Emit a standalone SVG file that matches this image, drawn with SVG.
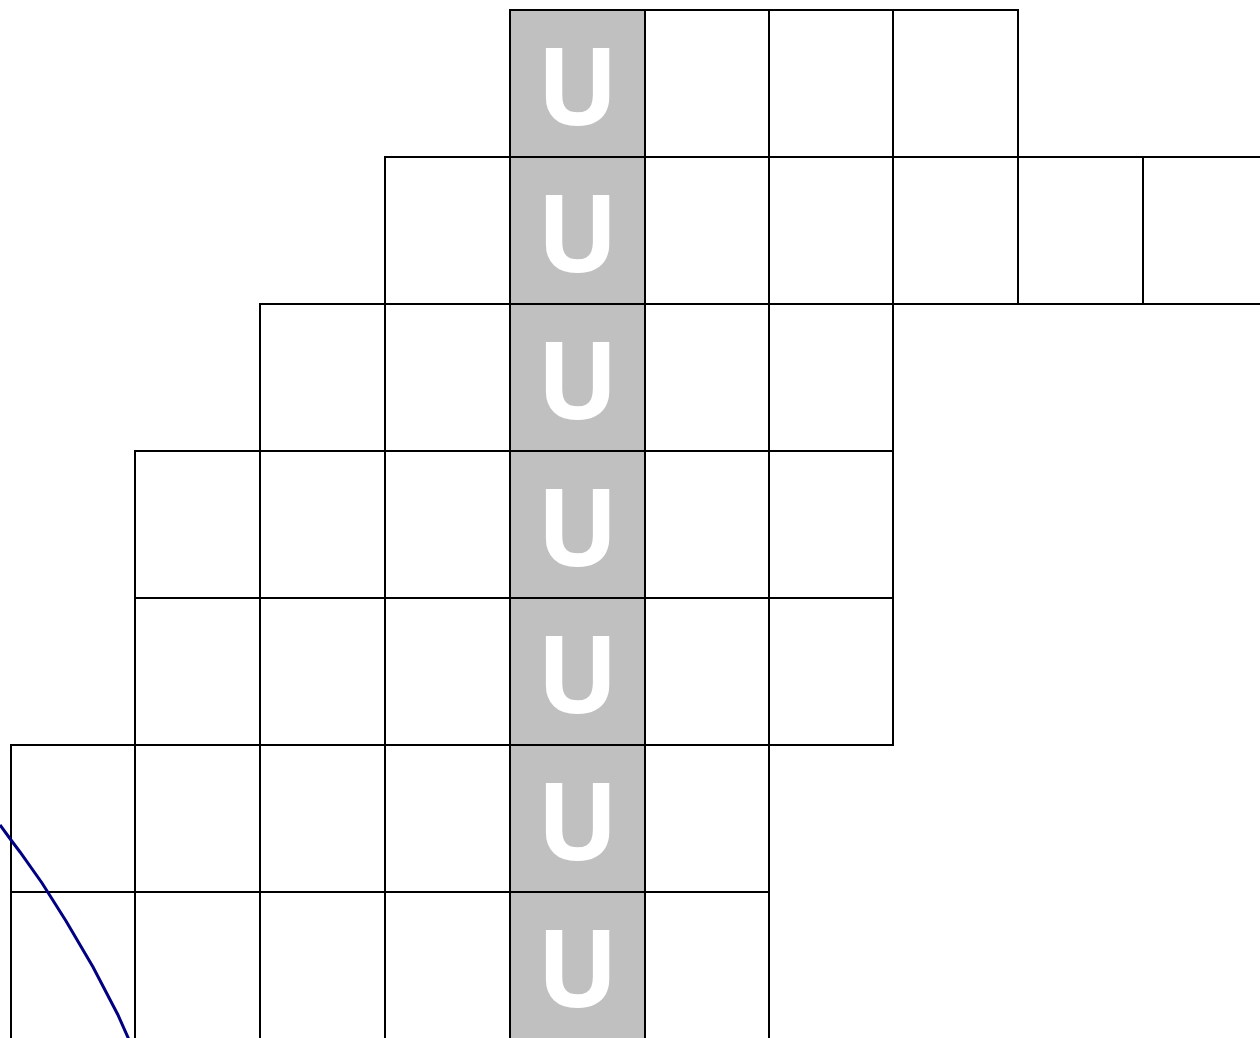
<svg xmlns="http://www.w3.org/2000/svg" width="1260" height="1038" viewBox="0 0 1260 1038">
<style>
.c{fill:#ffffff;stroke:#000000;stroke-width:2}
.g{fill:#c0c0c0;stroke:#000000;stroke-width:2}
.u{font-family:"Open Sans",sans-serif;font-weight:bold;font-size:108px;fill:#ffffff;text-anchor:middle}
.curve{fill:none;stroke:#000080;stroke-width:3}
</style>
<rect width="1260" height="1038" fill="#ffffff"/>
<g id="row0">
<rect class="g" x="510" y="10" width="135" height="147"/>
<rect class="c" x="645" y="10" width="124" height="147"/>
<rect class="c" x="769" y="10" width="124" height="147"/>
<rect class="c" x="893" y="10" width="125" height="147"/>
</g>
<g id="row1">
<rect class="c" x="385" y="157" width="125" height="147"/>
<rect class="g" x="510" y="157" width="135" height="147"/>
<rect class="c" x="645" y="157" width="124" height="147"/>
<rect class="c" x="769" y="157" width="124" height="147"/>
<rect class="c" x="893" y="157" width="125" height="147"/>
<rect class="c" x="1018" y="157" width="125" height="147"/>
<rect class="c" x="1143" y="157" width="130" height="147"/>
</g>
<g id="row2">
<rect class="c" x="260" y="304" width="125" height="147"/>
<rect class="c" x="385" y="304" width="125" height="147"/>
<rect class="g" x="510" y="304" width="135" height="147"/>
<rect class="c" x="645" y="304" width="124" height="147"/>
<rect class="c" x="769" y="304" width="124" height="147"/>
</g>
<g id="row3">
<rect class="c" x="135" y="451" width="125" height="147"/>
<rect class="c" x="260" y="451" width="125" height="147"/>
<rect class="c" x="385" y="451" width="125" height="147"/>
<rect class="g" x="510" y="451" width="135" height="147"/>
<rect class="c" x="645" y="451" width="124" height="147"/>
<rect class="c" x="769" y="451" width="124" height="147"/>
</g>
<g id="row4">
<rect class="c" x="135" y="598" width="125" height="147"/>
<rect class="c" x="260" y="598" width="125" height="147"/>
<rect class="c" x="385" y="598" width="125" height="147"/>
<rect class="g" x="510" y="598" width="135" height="147"/>
<rect class="c" x="645" y="598" width="124" height="147"/>
<rect class="c" x="769" y="598" width="124" height="147"/>
</g>
<g id="row5">
<rect class="c" x="11" y="745" width="124" height="147"/>
<rect class="c" x="135" y="745" width="125" height="147"/>
<rect class="c" x="260" y="745" width="125" height="147"/>
<rect class="c" x="385" y="745" width="125" height="147"/>
<rect class="g" x="510" y="745" width="135" height="147"/>
<rect class="c" x="645" y="745" width="124" height="147"/>
</g>
<g id="row6">
<rect class="c" x="11" y="892" width="124" height="160"/>
<rect class="c" x="135" y="892" width="125" height="160"/>
<rect class="c" x="260" y="892" width="125" height="160"/>
<rect class="c" x="385" y="892" width="125" height="160"/>
<rect class="g" x="510" y="892" width="135" height="160"/>
<rect class="c" x="645" y="892" width="124" height="160"/>
</g>
<g id="labels">
<text class="u" x="577.5" y="125">U</text>
<text class="u" x="577.5" y="272">U</text>
<text class="u" x="577.5" y="419">U</text>
<text class="u" x="577.5" y="566">U</text>
<text class="u" x="577.5" y="713">U</text>
<text class="u" x="577.5" y="860">U</text>
<text class="u" x="577.5" y="1007">U</text>
</g>
<g id="connectors">
<polyline class="curve" points="0,825 11,840 20,852 42,883 66,921 93,967 118,1015 130,1042"/>
</g>
</svg>
